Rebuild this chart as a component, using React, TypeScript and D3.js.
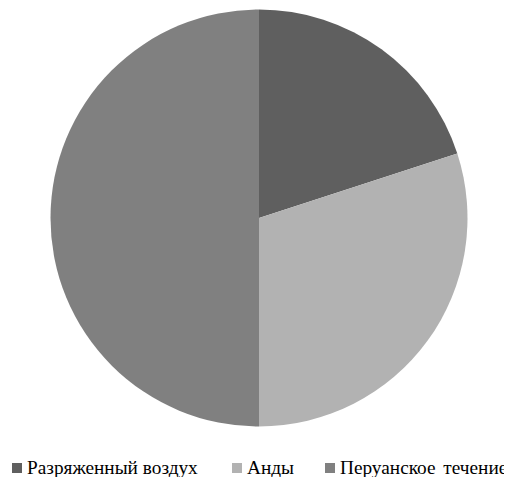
import React from "react";
import * as d3 from "d3";

const categories = ["Разряженный воздух", "Анды", "Перуанское течение"];
const values = [20, 30, 50];
const colors = ["#5f5f5f", "#b2b2b2", "#808080"];

export default function App() {
  const W = 512, H = 477;
  const cx = 259, cy = 218, r = 208.5;
  const pie = d3.pie<number>().sort(null).value((d) => d)(values);
  const arc = d3.arc<d3.PieArcDatum<number>>().innerRadius(0).outerRadius(r);
  const legendX = [12, 232, 325];
  return (
    <svg width={W} height={H} style={{ display: "block", margin: "-8px 0 0 -8px" }}>
      <rect width={W} height={H} fill="#fff" />
      <g transform={`translate(${cx},${cy})`}>
        {pie.map((p, i) => (
          <path key={i} d={arc(p) || ""} fill={colors[i]} />
        ))}
      </g>
      {categories.map((c, i) => (
        <rect key={"m" + c} x={legendX[i]} y={463} width={10} height={10} fill={colors[i]} />
      ))}
      {categories.map((c, i) => (
        <text
          key={"t" + c}
          x={legendX[i] + 15}
          y={474}
          fontFamily="Liberation Serif"
          fontSize={19.3}
          wordSpacing={i === 2 ? 3 : 0}
        >
          {c}
        </text>
      ))}
    </svg>
  );
}
